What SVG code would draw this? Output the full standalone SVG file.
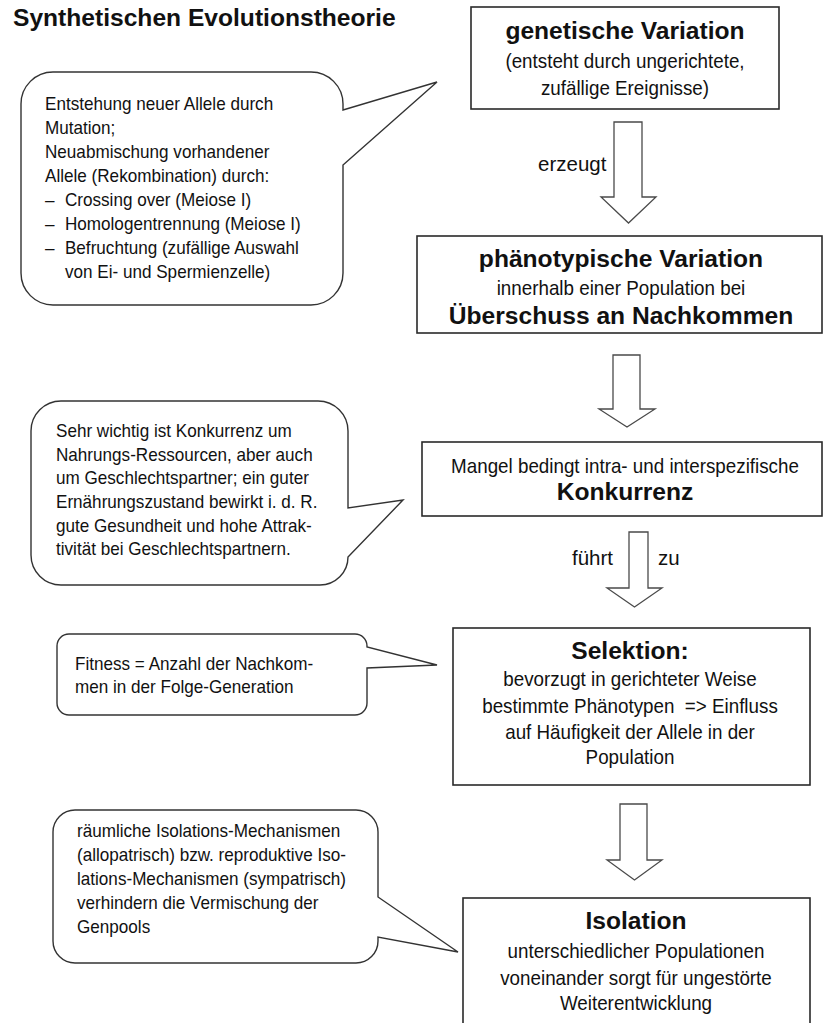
<svg xmlns="http://www.w3.org/2000/svg" width="826" height="1023" viewBox="0 0 826 1023">
<style>
text{font-family:"Liberation Sans",Arial,sans-serif;fill:#111}
.b{font-weight:bold;font-size:24.6px}
.r{font-size:20.5px;text-anchor:middle}
.c{font-size:18.6px}
.l{font-size:20.5px}
.m{text-anchor:middle}
.box{fill:#fff;stroke:#2a2a2a;stroke-width:1.6}
.call{fill:#fff;stroke:#333;stroke-width:1.4;stroke-linejoin:miter}
.arr{fill:#fff;stroke:#4a4a4a;stroke-width:1.3}
</style>
<rect width="826" height="1023" fill="#fff"/>
<g id="title">
<text class="b" x="13" y="26">Synthetischen Evolutionstheorie</text>
</g>
<g id="connectors">
<path class="arr" d="M614,122 H642 V197 H656 L628.5,223 L601,197 H614 Z"/>
<path class="arr" d="M613,355 H640 V409 H655 L627,427 L599,409 H613 Z"/>
<path class="arr" d="M629,532 H648 V588 H662 L634.5,607 L607,588 H629 Z"/>
<path class="arr" d="M620,804 H647 V860 H662 L634.5,880 L607,860 H620 Z"/>
<text class="l" x="538" y="171">erzeugt</text>
<text class="l" x="572" y="565">führt</text>
<text class="l" x="658" y="565">zu</text>
</g>
<g id="node-genetische-variation">
<rect class="box" x="471" y="7" width="308" height="102"/>
<text class="b m" x="625" y="39">genetische Variation</text>
<g transform="translate(625,0) scale(0.917,1)">
<text class="r" x="0" y="68">(entsteht durch ungerichtete,</text>
<text class="r" x="0" y="95">zufällige Ereignisse)</text>
</g>
</g>
<g id="node-phaenotypische-variation">
<rect class="box" x="417" y="236" width="405" height="97"/>
<text class="b m" x="621" y="267">phänotypische Variation</text>
<g transform="translate(621,0) scale(0.917,1)">
<text class="r" x="0" y="295">innerhalb einer Population bei</text>
</g>
<text class="b m" x="621" y="324">Überschuss an Nachkommen</text>
</g>
<g id="node-konkurrenz">
<rect class="box" x="422" y="442" width="400" height="74"/>
<g transform="translate(625,0) scale(0.917,1)">
<text class="r" x="0" y="473">Mangel bedingt intra- und interspezifische</text>
</g>
<text class="b m" x="625" y="500">Konkurrenz</text>
</g>
<g id="node-selektion">
<rect class="box" x="453" y="628" width="357" height="157"/>
<text class="b m" x="630" y="659">Selektion:</text>
<g transform="translate(630,0) scale(0.917,1)">
<text class="r" x="0" y="686">bevorzugt in gerichteter Weise</text>
<text class="r" x="0" y="713" xml:space="preserve">bestimmte Phänotypen  =&gt; Einfluss</text>
<text class="r" x="0" y="739">auf Häufigkeit der Allele in der</text>
<text class="r" x="0" y="764">Population</text>
</g>
</g>
<g id="node-isolation">
<rect class="box" x="463" y="898" width="347" height="140"/>
<text class="b m" x="636" y="929">Isolation</text>
<g transform="translate(636,0) scale(0.917,1)">
<text class="r" x="0" y="958">unterschiedlicher Populationen</text>
<text class="r" x="0" y="985">voneinander sorgt für ungestörte</text>
<text class="r" x="0" y="1010">Weiterentwicklung</text>
</g>
</g>
<g id="callout-variation">
<path class="call" d="M53,72 H311 A32,32 0 0 1 343,104 V110 L437,82 L343,165 V273 A32,32 0 0 1 311,305 H53 A32,32 0 0 1 21,273 V104 A32,32 0 0 1 53,72 Z"/>
<g transform="translate(45,0) scale(0.92,1)">
<text class="c" x="0" y="110">Entstehung neuer Allele durch</text>
<text class="c" x="0" y="134">Mutation;</text>
<text class="c" x="0" y="158">Neuabmischung vorhandener</text>
<text class="c" x="0" y="182">Allele (Rekombination) durch:</text>
<text class="c" x="0" y="206">–</text><text class="c" x="21.7" y="206">Crossing over (Meiose I)</text>
<text class="c" x="0" y="230">–</text><text class="c" x="21.7" y="230">Homologentrennung (Meiose I)</text>
<text class="c" x="0" y="254">–</text><text class="c" x="21.7" y="254">Befruchtung (zufällige Auswahl</text>
<text class="c" x="21.7" y="278">von Ei- und Spermienzelle)</text>
</g>
</g>
<g id="callout-konkurrenz">
<path class="call" d="M61,401 H318 A30,30 0 0 1 348,431 V508 L403,500 L348,557 A28,28 0 0 1 320,585 H61 A30,30 0 0 1 31,555 V431 A30,30 0 0 1 61,401 Z"/>
<g transform="translate(56,0) scale(0.92,1)">
<text class="c" x="0" y="437">Sehr wichtig ist Konkurrenz um</text>
<text class="c" x="0" y="460.7">Nahrungs-Ressourcen, aber auch</text>
<text class="c" x="0" y="484.3">um Geschlechtspartner; ein guter</text>
<text class="c" x="0" y="508">Ernährungszustand bewirkt i. d. R.</text>
<text class="c" x="0" y="531.7">gute Gesundheit und hohe Attrak-</text>
<text class="c" x="0" y="555">tivität bei Geschlechtspartnern.</text>
</g>
</g>
<g id="callout-fitness">
<path class="call" d="M69,634 H355 A12,12 0 0 1 367,646 V647 L437,665 L367,668 V703 A12,12 0 0 1 355,715 H69 A12,12 0 0 1 57,703 V646 A12,12 0 0 1 69,634 Z"/>
<g transform="translate(75,0) scale(0.92,1)">
<text class="c" x="0" y="670">Fitness = Anzahl der Nachkom-</text>
<text class="c" x="0" y="693">men in der Folge-Generation</text>
</g>
</g>
<g id="callout-isolation">
<path class="call" d="M75,810 H356 A22,22 0 0 1 378,832 V897 L458,952 L378,937 V941 A22,22 0 0 1 356,963 H75 A22,22 0 0 1 53,941 V832 A22,22 0 0 1 75,810 Z"/>
<g transform="translate(77,0) scale(0.92,1)">
<text class="c" x="0" y="837">räumliche Isolations-Mechanismen</text>
<text class="c" x="0" y="861">(allopatrisch) bzw. reproduktive Iso-</text>
<text class="c" x="0" y="885">lations-Mechanismen (sympatrisch)</text>
<text class="c" x="0" y="909">verhindern die Vermischung der</text>
<text class="c" x="0" y="933">Genpools</text>
</g>
</g>
</svg>
